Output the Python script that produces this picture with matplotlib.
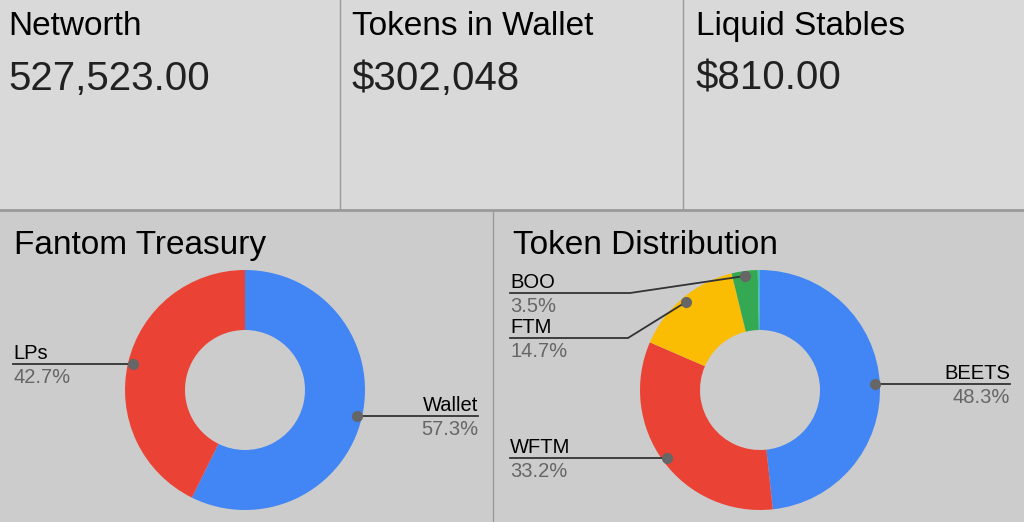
import matplotlib.pyplot as plt
from matplotlib.patches import Rectangle
import numpy as np

plt.rcParams['font.family'] = ['Liberation Sans', 'DejaVu Sans']

W, H = 1024, 522

# scorecards
card_titles = ['Networth', 'Tokens in Wallet', 'Liquid Stables']
card_values = ['527,523.00', '$302,048', '$810.00']

# donut charts
treasury_labels = ['Wallet', 'LPs']
treasury_values = [57.3, 42.7]
treasury_colors = ['#4285f4', '#ea4335']

token_labels = ['BEETS', 'WFTM', 'FTM', 'BOO', '']
token_values = [48.3, 33.2, 14.7, 3.5, 0.3]
token_colors = ['#4285f4', '#ea4335', '#fbbc04', '#34a853', '#46bdc6']


def Y(y):
    # pixel rows are counted from the top of the picture
    return H - y


fig = plt.figure(figsize=(W / 100, H / 100), dpi=100)
ax = fig.add_axes([0, 0, 1, 1])

# backgrounds and separators
ax.add_patch(Rectangle((0, Y(210)), W, 210, color='#d9d9d9', zorder=0))
ax.add_patch(Rectangle((0, 0), W, H - 210, color='#cccccc', zorder=0))
ax.plot([0, W], [Y(210), Y(210)], color='#9a9a9a', lw=2, zorder=1)
for x in [340, 683]:
    ax.plot([x, x], [Y(0), Y(210)], color='#9a9a9a', lw=1, zorder=1)
ax.plot([493, 493], [Y(211), 0], color='#9a9a9a', lw=1, zorder=1)

card_x = [8, 352, 696]
for x, t, v in zip(card_x, card_titles, card_values):
    ax.text(x, Y(35), t, fontsize=24, color='#000000', va='baseline')
    ax.text(x, Y(90), v, fontsize=29, color='#212121', va='baseline')

ax.text(14, Y(254), 'Fantom Treasury', fontsize=24, color='#000000', va='baseline')
ax.text(513, Y(254), 'Token Distribution', fontsize=24, color='#000000', va='baseline')


def donut(values, colors, cx, cy, r=120):
    ax.pie(values, colors=colors, startangle=90, counterclock=False,
           center=(cx, Y(cy)), radius=r, frame=True,
           wedgeprops=dict(width=r / 2, edgecolor='none'))
    total = sum(values)
    cum = np.cumsum([0] + list(values))
    dots = []
    for i, v in enumerate(values):
        a = np.radians(90 - 360 * (cum[i] + v / 2) / total)
        dots.append((cx + 115 * np.cos(a), cy - 115 * np.sin(a)))
    return dots


def label(name, pct, dot, x_text, ly, elbow, right=False):
    if right:
        xs = [dot[0], x_text]
        ys = [dot[1], dot[1]]
        ly = dot[1]
    else:
        xs = [x_text, elbow, dot[0]]
        ys = [ly, ly, dot[1]]
    ax.plot(xs, [Y(y) for y in ys], color='#333333', lw=1.3, zorder=3)
    ax.plot(dot[0], Y(dot[1]), 'o', color='#666666', ms=7, zorder=4)
    ha = 'right' if right else 'left'
    ax.text(x_text, Y(ly - 5), name, fontsize=14.5, color='#000000', ha=ha, va='baseline')
    ax.text(x_text, Y(ly + 19), pct, fontsize=14.5, color='#666666', ha=ha, va='baseline')


d1 = donut(treasury_values, treasury_colors, 245, 390)
label(treasury_labels[0], f'{treasury_values[0]}%', d1[0], 478, None, None, right=True)
label(treasury_labels[1], f'{treasury_values[1]}%', d1[1], 13, d1[1][1], d1[1][0])

d2 = donut(token_values, token_colors, 760, 390)
label(token_labels[0], f'{token_values[0]}%', d2[0], 1010, None, None, right=True)
label(token_labels[1], f'{token_values[1]}%', d2[1], 510, d2[1][1], d2[1][0])
label(token_labels[2], f'{token_values[2]}%', d2[2], 510, 338, 628)
label(token_labels[3], f'{token_values[3]}%', d2[3], 510, 293, 630)

ax.set_xlim(0, W)
ax.set_ylim(0, H)
ax.axis('off')

plt.savefig('out.png', dpi=100)
